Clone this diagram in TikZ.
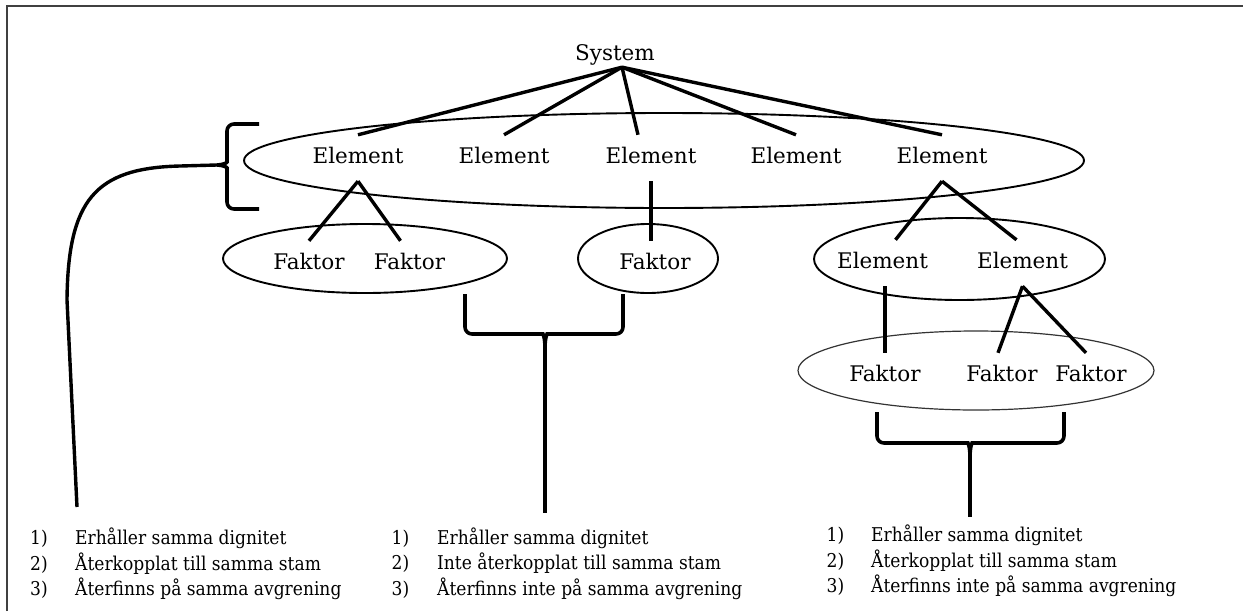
\documentclass[tikz,border=0pt]{standalone}
\usepackage{fontspec}
\setmainfont{DejaVu Serif}
\newfontfamily\listfont[FakeStretch=0.9]{DejaVu Serif}
\usetikzlibrary{shapes.geometric}
\begin{document}
\begin{tikzpicture}[x=1pt,y=-1pt,
  ring/.style={ellipse, draw=black, line width=1.9pt, inner sep=0pt},
  word/.style={anchor=base, inner sep=0pt, text height=28pt, text depth=18pt, font=\fontsize{21.5}{26}\selectfont},
  link/.style={line width=3.4pt},
  brace/.style={line width=3.6pt, rounded corners=7pt},
  list/.style={anchor=west, inner sep=0pt, align=left, font=\listfont\fontsize{19}{25}\selectfont}]
\useasboundingbox (0,0) rectangle (1243,611);
\draw[line width=1.5pt, draw=black!75] (7,611) -- (7,6) -- (1243,6);
\node[ring, minimum width=840pt, minimum height=95pt] (G1) at (664,160.5) {};
\node[ring, minimum width=284pt, minimum height=69pt] (G2) at (365,258.5) {};
\node[ring, minimum width=140pt, minimum height=69pt] (G3) at (648,258.5) {};
\node[ring, minimum width=291pt, minimum height=82pt] (G4) at (959.5,259) {};
\node[ring, line width=1.2pt, draw=black!80, minimum width=356pt, minimum height=79pt] (G5) at (976,370.5) {};
\node[word, text height=17pt, text depth=7pt] (S) at (615,60) {System};
\node[word] (E1) at (358,163) {Element};
\node[word] (E2) at (504,163) {Element};
\node[word] (E3) at (651,163) {Element};
\node[word] (E4) at (796,163) {Element};
\node[word] (E5) at (942,163) {Element};
\node[word] (F1) at (309,269) {Faktor};
\node[word] (F2) at (409.5,269) {Faktor};
\node[word] (F3) at (655,269) {Faktor};
\node[word] (E6) at (882.5,268) {Element};
\node[word] (E7) at (1022.5,268) {Element};
\node[word] (F4) at (885,381) {Faktor};
\node[word] (F5) at (1002,381) {Faktor};
\node[word] (F6) at (1091,381) {Faktor};
\node[shape=coordinate] at ([xshift=7pt]S.south) (P0) {};
\draw[link] (P0) -- (E1.north);
\draw[link] (P0) -- (E2.north);
\draw[link] (P0) -- ([xshift=-13pt]E3.north);
\draw[link] (P0) -- (E4.north);
\draw[link] (P0) -- (E5.north);
\draw[link] (E1.south) -- (F1.north);
\draw[link] (E1.south) -- ([xshift=-9pt]F2.north);
\draw[link] (E3.south) -- (E3.south |- F3.north);
\draw[link] (E5.south) -- ([xshift=13pt]E6.north);
\draw[link] (E5.south) -- ([xshift=-6pt]E7.north);
\draw[link] (F4.north |- E6.south) -- (F4.north);
\draw[link] (E7.south) -- ([xshift=-4pt]F5.north);
\draw[link] (E7.south) -- ([xshift=-5pt]F6.north);
\node[shape=coordinate] at (217,165) (B1) {};
\node[shape=coordinate] at (545,348) (B2) {};
\node[shape=coordinate] at (970,457) (B3) {};
\draw[brace] (259,124) -- (227,124) -- (227,155) .. controls (227,163) and (222,165) .. (B1);
\draw[brace] (259,209) -- (227,209) -- (227,175) .. controls (227,167) and (222,165) .. (B1);
\draw[link] (B1) -- (180,166) .. controls (95,168) and (68,200) .. (67,300) -- (77,507);
\draw[brace] (465,294) -- (465,334) -- (536,334) .. controls (543,334) and (545,338) .. (B2);
\draw[brace] (623,294) -- (623,334) -- (554,334) .. controls (547,334) and (545,338) .. (B2);
\draw[link] (B2) -- (545,513);
\draw[brace] (877,412) -- (877,443) -- (961,443) .. controls (968,443) and (970,447) .. (B3);
\draw[brace] (1064,412) -- (1064,443) -- (979,443) .. controls (972,443) and (970,447) .. (B3);
\draw[link] (B3) -- (970,517);
\node[list] (L1) at (30,565) {\begin{tabular}{@{}p{45pt}@{}l@{}}1) & Erhåller samma dignitet\\ 2) & Återkopplat till samma stam\\ 3) & Återfinns på samma avgrening\end{tabular}};
\node[list] (L2) at (391.5,565) {\begin{tabular}{@{}p{45.5pt}@{}l@{}}1) & Erhåller samma dignitet\\ 2) & Inte återkopplat till samma stam\\ 3) & Återfinns inte på samma avgrening\end{tabular}};
\node[list] (L3) at (826.5,562) {\begin{tabular}{@{}p{44.5pt}@{}l@{}}1) & Erhåller samma dignitet\\ 2) & Återkopplat till samma stam\\ 3) & Återfinns inte på samma avgrening\end{tabular}};
\end{tikzpicture}
\end{document}
